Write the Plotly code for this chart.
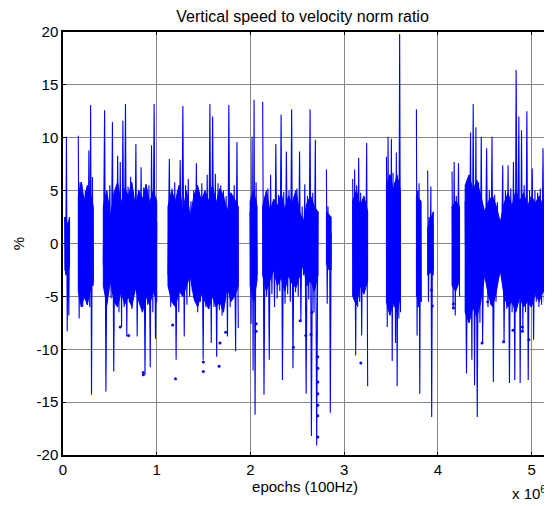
import numpy as np
import plotly.graph_objects as go

# ---- data (values in %, epochs in millions of samples) ----
span_a = (0.02, 0.07)
vals_a = [2.5, -3.0, 10.1, -8.3, 2.0, -6.8, 1.5]
core_top_a = [2.5, 1.5, 2.5]
core_bot_a = [-2.5, -3.0, -2.0]

span_b = (0.163, 0.323)
vals_b = [10.2, -7.1, 5.8, -5.5, 5.6, -6.0, 4.5, -5.2, 5.0, -4.0, 3.5, -3.0, 8.8, -6.0, 13.1, -14.3, 6.3, -4.0]
core_top_b = [4.5, 5.8, 4.0, 5.5, 4.8, 3.5]
core_bot_b = [-4.5, -6.0, -5.0, -5.8, -4.5, -3.5]

span_c = (0.43, 1.0)
vals_c = [-2.0, 12.6, -14.0, 4.0, -3.0, 5.5, -5.2, 11.5, -12.1, 5.0, -5.5, 8.3, -6.5, 7.7, -7.9, 11.6, -6.0,
          13.2, -8.8, 5.4, -5.6, 6.3, -6.2, 4.8, -4.8, 9.4, -8.8, 5.0, -5.5, 7.2, -6.0, 5.3, -12.4, 4.6, -5.8,
          5.5, -11.7, 9.3, -6.5, 13.2, -9.0, 2.0]
core_top_c = [3.5, 5.0, 2.5, 4.8, 5.8, 3.8, 5.2, 4.5, 5.8, 3.5, 5.0, 4.2, 5.6, 3.8, 5.0, 4.0]
core_bot_c = [-4.0, -5.8, -3.5, -5.5, -6.0, -4.5, -5.8, -5.0, -6.0, -4.2, -5.5, -6.5, -5.0, -5.8, -4.5, -5.5]

span_d = (1.12, 1.87)
vals_d = [-3.0, 8.0, -6.0, 5.2, -5.5, 5.8, -11.0, 5.0, -6.5, 7.9, -4.5, 13.0, -8.8, 5.5, -5.8, 6.1, -5.0, 4.0,
          -4.5, 5.0, -5.5, 7.6, -6.5, 4.5, -5.5, 5.7, -11.0, 4.8, -6.0, 6.5, -5.5, 13.2, -9.4, 12.0, -6.0, 6.6,
          -10.7, 5.7, -6.3, 5.5, -6.8, 5.0, -5.6, 4.5, -8.8, 13.1, -6.0, 4.2, -3.0, 5.5, -10.2, 9.6, -8.0]
core_top_d = [3.5, 5.0, 4.0, 5.5, 3.0, 5.0, 2.5, 4.5, 5.5, 4.0, 5.0, 4.0, 5.5, 3.8, 5.2, 4.5, 3.0, 4.8, 4.2, 3.5]
core_bot_d = [-4.0, -5.5, -6.0, -4.5, -5.0, -4.0, -3.0, -5.2, -6.0, -4.8, -5.5, -6.2, -5.0, -6.0, -5.5, -6.5,
              -4.0, -5.5, -5.0, -4.0]

span_e = (1.996, 2.07)
vals_e = [3.0, -7.6, 10.1, -12.0, 13.6, -16.2, 5.8, -3.0]
core_top_e = [4.0, 5.0, 3.5]
core_bot_e = [-4.0, -5.5, -3.5]

span_f = (2.13, 2.72)
vals_f = [13.4, -14.3, 4.5, -5.0, 5.2, -11.0, 6.5, -4.8, 4.0, -6.0, 9.4, -5.2, 4.6, -4.5, 12.2, -12.9, 4.9,
          -5.7, 8.7, -4.8, 5.0, -5.5, 12.7, -11.8, 4.5, -4.6, 5.2, -5.0, 8.7, -7.4, 3.5, -3.0, 5.6, -14.2, 4.5,
          -5.3, 12.7, -18.2, 4.8, -6.5, 9.8, -19.1, 3.0]
core_top_f = [3.5, 5.0, 3.0, 4.2, 3.5, 4.8, 3.2, 4.5, 3.8, 5.0, 3.0, 2.0, 3.8, 4.5, 3.5, 3.0]
core_bot_f = [-3.0, -4.5, -3.5, -2.5, -4.0, -3.2, -4.5, -3.0, -3.8, -4.2, -3.0, -2.0, -4.0, -3.5, -4.5, -3.0]

span_g = (2.81, 2.86)
vals_g = [7.0, -5.7, 3.5, -2.5, 2.5, -16.0, 1.0]
core_top_g = [3.0, 2.5]
core_bot_g = [-2.0, -2.5]

span_h = (3.09, 3.25)
vals_h = [6.1, -5.0, 7.0, -10.6, 5.5, -6.0, 8.1, -5.5, 4.8, -8.7, 4.0, -4.5, 3.0, -4.0, 9.5, -13.5]
core_top_h = [4.0, 5.0, 3.5, 4.5, 3.0]
core_bot_h = [-5.0, -5.8, -4.0, -4.8, -3.5]

span_i = (3.45, 3.60)
vals_i = [8.2, -7.9, 10.1, -5.5, 6.5, -6.2, 9.9, -11.1, 6.7, -6.0, 5.8, -9.4, 8.6, -13.5, 6.0, -7.1, 19.8, -6.5]
core_top_i = [5.5, 6.5, 5.0, 6.5, 5.0]
core_bot_i = [-5.5, -6.8, -5.5, -6.5, -5.0]

span_j = (3.77, 3.82)
vals_j = [12.7, -8.7, 5.0, -6.0, 5.7, -14.2, 4.0, -5.5]
core_top_j = [4.5, 4.0]
core_bot_j = [-5.0, -5.5]

span_k = (3.89, 3.95)
vals_k = [6.9, -5.5, 2.5, -1.5, 5.4, -16.4, 2.0, -3.0]
core_top_k = [1.5, 3.0]
core_bot_k = [-3.0, -2.5]

span_l = (4.15, 4.23)
vals_l = [6.8, -6.1, 7.7, -6.8, 4.5, -4.0, 7.6, -5.0]
core_top_l = [3.5, 4.0, 3.5]
core_bot_l = [-4.0, -4.5, -3.5]

span_m = (4.29, 5.163)
vals_m = [4.0, -12.3, 5.5, -7.2, 10.5, -11.0, 13.2, -13.4, 11.0, -16.4, 5.8, -7.5, 10.1, -9.4, 2.5, -2.0, 9.0,
          -6.0, 5.0, -5.8, 10.1, -13.1, 4.6, -5.5, 3.9, -3.0, 1.0, -1.5, 7.4, -9.3, 5.0, -6.2, 7.4, -13.2, 5.2,
          -6.5, 7.7, -12.9, 16.4, -6.0, 12.0, -13.2, 10.7, -8.3, 5.5, -6.5, 12.5, -12.9, 5.0, -6.0, 7.1, -9.1,
          5.0, -5.5, 4.8, -6.0, 5.2, -5.8, 9.0, -5.5, 9.1, -16.4]
core_top_m = [5.5, 6.5, 5.0, 6.0, 4.5, 3.0, 4.0, 4.5, 3.5, 2.0, 3.8, 4.8, 3.5, 5.0, 4.0, 4.8, 3.5, 4.5, 3.8,
              4.5, 3.5, 4.0]
core_bot_m = [-6.5, -7.5, -6.0, -7.0, -5.5, -3.0, -5.0, -6.0, -4.5, -2.5, -5.0, -6.0, -5.5, -6.5, -5.0, -6.0,
              -5.5, -6.0, -4.8, -5.5, -4.5, -5.0]

# isolated samples (epochs in millions, value %)
dots_x = [0.466, 0.61, 0.70, 0.857, 0.857, 1.17, 1.20, 1.497, 1.497, 1.665, 1.675, 1.736,
          2.06, 2.06, 2.458, 2.53, 2.59, 2.645, 2.655,
          2.718, 2.718, 2.718, 2.718, 2.718, 2.718, 2.718,
          3.177, 3.48, 3.94, 3.93, 4.165, 4.165, 4.47, 4.53, 4.70, 4.80, 4.90, 4.90, 4.97]
dots_y = [-5.4, -7.9, -8.7, -12.2, -12.4, -7.7, -12.8, -11.2, -12.1, -11.6, -9.4, -8.4,
          -7.6, -8.3, -9.8, -7.3, -8.7, -8.6, -6.5,
          -10.7, -11.8, -13.1, -14.2, -15.3, -16.3, -18.3,
          -11.3, -2.7, -5.9, -4.4, -5.7, -6.1, -9.4, -5.5, -9.3, -8.2, -7.9, -8.3, -9.1]

x_ticks = [0, 1, 2, 3, 4, 5]
y_ticks = [-20, -15, -10, -5, 0, 5, 10, 15, 20]

segments = [
    (span_a, vals_a, core_top_a, core_bot_a), (span_b, vals_b, core_top_b, core_bot_b),
    (span_c, vals_c, core_top_c, core_bot_c), (span_d, vals_d, core_top_d, core_bot_d),
    (span_e, vals_e, core_top_e, core_bot_e), (span_f, vals_f, core_top_f, core_bot_f),
    (span_g, vals_g, core_top_g, core_bot_g), (span_h, vals_h, core_top_h, core_bot_h),
    (span_i, vals_i, core_top_i, core_bot_i), (span_j, vals_j, core_top_j, core_bot_j),
    (span_k, vals_k, core_top_k, core_bot_k), (span_l, vals_l, core_top_l, core_bot_l),
    (span_m, vals_m, core_top_m, core_bot_m),
]

xs, ys = [], []
cx, cy = [], []
for (x0, x1), vals, top, bot in segments:
    pos = np.linspace(x0, x1, len(vals)) * 1e6
    xs.extend(pos.tolist()); ys.extend(vals)
    xs.append(None); ys.append(None)
    tpos = (np.linspace(x0, x1, len(top)) * 1e6).tolist()
    bpos = (np.linspace(x0, x1, len(bot)) * 1e6).tolist()
    cx.extend(tpos + bpos[::-1] + [tpos[0]]); cy.extend(top + bot[::-1] + [top[0]])
    cx.append(None); cy.append(None)

BLUE = "#0000FF"
fig = go.Figure()
fig.add_trace(go.Scatter(x=cx, y=cy, mode="lines", fill="toself", fillcolor=BLUE,
                         line=dict(color=BLUE, width=1), hoverinfo="skip", showlegend=False))
fig.add_trace(go.Scatter(x=xs, y=ys, mode="lines", line=dict(color=BLUE, width=1.1),
                         connectgaps=False, hoverinfo="skip", showlegend=False))
fig.add_trace(go.Scatter(x=[v * 1e6 for v in dots_x], y=dots_y, mode="markers",
                         marker=dict(color=BLUE, size=3), showlegend=False, hoverinfo="skip"))

# the page body adds an 8 px offset, so the figure is 8 px smaller and margins shifted
font_family = "Liberation Sans, Arial, sans-serif"
fig.update_layout(
    width=544, height=498,
    margin=dict(l=55, r=5, t=24, b=51, autoexpand=False),
    paper_bgcolor="white", plot_bgcolor="white",
    font=dict(family=font_family, size=15, color="black"),
    title=dict(text="Vertical speed to velocity norm ratio", x=0.5414, xanchor="center",
               y=0.984, yanchor="middle", font=dict(size=16, color="black")),
    showlegend=False,
)
fig.update_xaxes(
    range=[0, 5.163e6], tickvals=[t * 1e6 for t in x_ticks], ticktext=[str(t) for t in x_ticks],
    showgrid=True, gridcolor="#858585", gridwidth=1, zeroline=False,
    showline=True, linecolor="black", linewidth=1.5, mirror="ticks",
    ticks="inside", ticklen=3, tickcolor="black",
    title=dict(text="epochs (100Hz)", standoff=2, font=dict(size=15)),
    tickfont=dict(size=15), automargin=False,
)
fig.update_yaxes(
    range=[-20, 20], tickvals=y_ticks, ticktext=[str(t) for t in y_ticks],
    showgrid=True, gridcolor="#858585", gridwidth=1, zeroline=False,
    showline=True, linecolor="black", linewidth=1.5, mirror="ticks",
    ticks="inside", ticklen=3, tickcolor="black",
    title=dict(text="%", standoff=8, font=dict(size=15)),
    tickfont=dict(size=15), automargin=False,
)
fig.add_annotation(text="x 10<sup>6</sup>", xref="paper", yref="paper", x=1.002, y=-0.0875,
                   xanchor="right", yanchor="middle", showarrow=False, font=dict(size=15))
fig.write_html("out.html")
